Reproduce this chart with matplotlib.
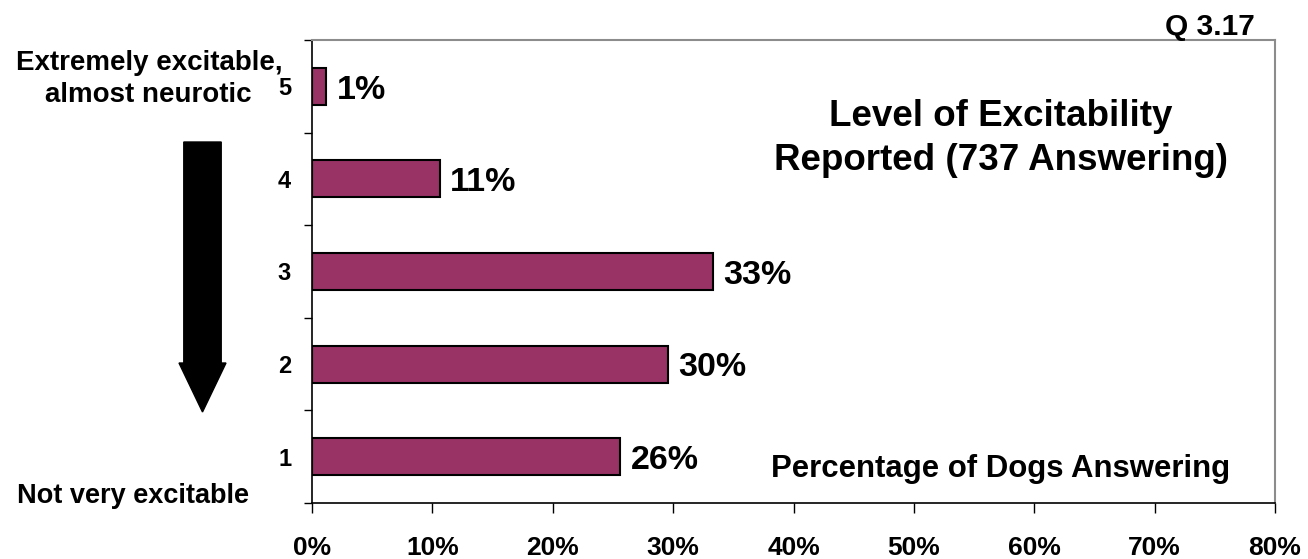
import matplotlib
matplotlib.use("Agg")
import matplotlib.pyplot as plt
import numpy as np

categories = ["1", "2", "3", "4", "5"]
values = [25.6, 29.6, 33.3, 10.6, 1.2]
value_labels = ["26%", "30%", "33%", "11%", "1%"]
xticks = [0, 10, 20, 30, 40, 50, 60, 70, 80]
xtick_labels = ["0%", "10%", "20%", "30%", "40%", "50%", "60%", "70%", "80%"]

FONT = "Liberation Sans"
plt.rcParams["font.family"] = [FONT, "DejaVu Sans"]

W, H = 1308, 559
fig = plt.figure(figsize=(W / 100, H / 100), dpi=100)
ax = fig.add_axes([312 / W, 1 - 503 / H, (1275 - 312) / W, (503 - 40) / H])

y = np.arange(len(categories))
ax.barh(y, values, height=0.4, color="#993366", edgecolor="black", linewidth=1.5, zorder=3)
ax.set_xlim(0, 80)
ax.set_ylim(-0.5, len(categories) - 0.5)

for yi, v, lab in zip(y, values, value_labels):
    ax.text(v + 0.85, yi - 0.04, lab, ha="left", va="center", fontsize=24.5,
            fontweight="bold")

ax.set_xticks(xticks)
ax.set_xticklabels(xtick_labels, fontsize=19, fontweight="bold")
ax.tick_params(axis="x", direction="out", length=7, width=1, pad=17, colors="black")

ax.set_yticks(np.arange(-0.5, len(categories), 1.0))
ax.set_yticklabels([])
ax.tick_params(axis="y", which="major", direction="out", length=6, width=1)
ax.set_yticks(y, minor=True)
ax.set_yticklabels(categories, minor=True, fontsize=17, fontweight="bold")
ax.tick_params(axis="y", which="minor", length=0, pad=15)

for s in ["left", "bottom"]:
    ax.spines[s].set_color("black")
    ax.spines[s].set_linewidth(1.2)
for s in ["top", "right"]:
    ax.spines[s].set_color("#8c8c8c")
    ax.spines[s].set_linewidth(1.5)

def fx(px):
    return px / W

def fy(py):
    return 1 - py / H

fig.text(fx(1001), fy(126), "Level of Excitability", ha="center", va="baseline",
         fontsize=26.5, fontweight="bold")
fig.text(fx(1001), fy(170), "Reported (737 Answering)", ha="center", va="baseline",
         fontsize=26.5, fontweight="bold")
fig.text(fx(1001), fy(477), "Percentage of Dogs Answering", ha="center", va="baseline",
         fontsize=22.4, fontweight="bold")
fig.text(fx(1255), fy(35), "Q 3.17", ha="right", va="baseline", fontsize=21.5,
         fontweight="bold")
fig.text(fx(149), fy(70), "Extremely excitable,", ha="center", va="baseline",
         fontsize=20, fontweight="bold")
fig.text(fx(148), fy(102), "almost neurotic", ha="center", va="baseline",
         fontsize=20, fontweight="bold")
fig.text(fx(133), fy(503), "Not very excitable", ha="center", va="baseline",
         fontsize=19.5, fontweight="bold")

fig.patches.append(matplotlib.patches.FancyArrow(
    fx(202.5), fy(142), 0, fy(412) - fy(142), width=16 / H, head_width=47 / W,
    head_length=49 / H, length_includes_head=True, transform=fig.transFigure,
    color="black", figure=fig))

fig.savefig("out.png", dpi=100)
